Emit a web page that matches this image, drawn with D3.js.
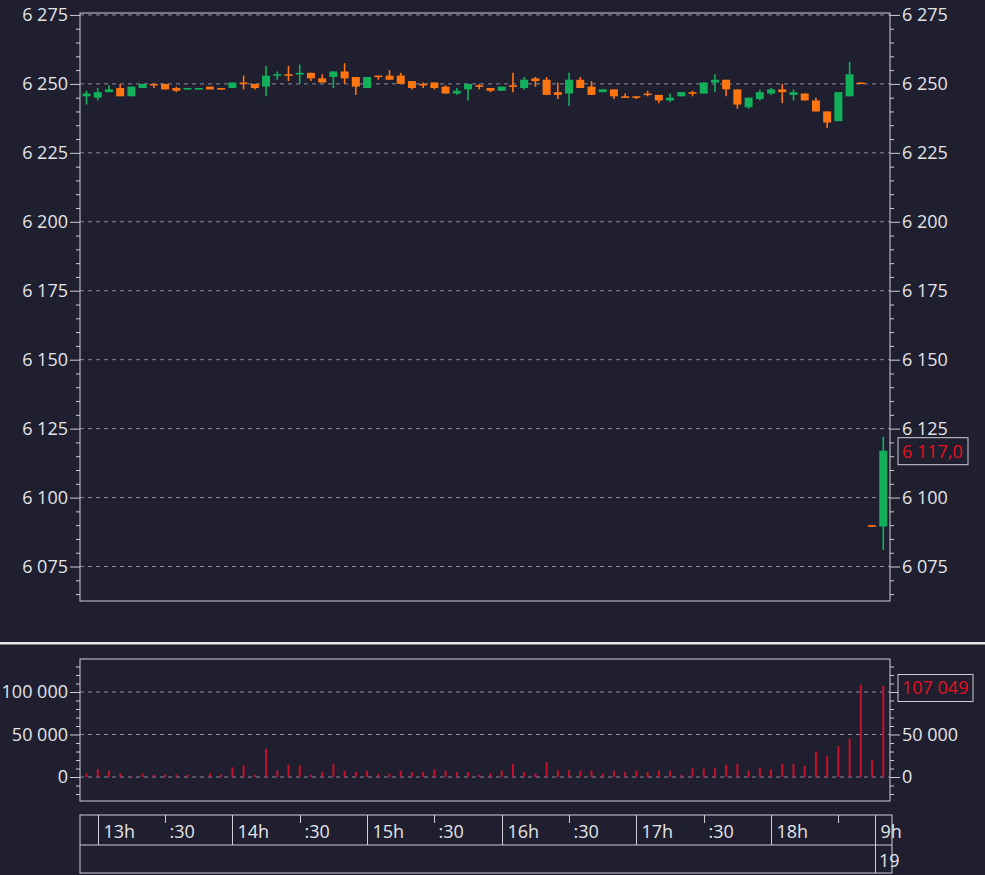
<!DOCTYPE html>
<html><head><meta charset="utf-8">
<script src="https://cdn.jsdelivr.net/npm/d3@7"></script>
<style>
html,body{margin:0;padding:0;background:#1f1f30;}
svg{display:block;}
</style></head><body>
<svg id="chart" width="985" height="875"></svg>
<script>
// ---- data (5-minute bars, index 0 = 12:55; 70 = close auction; 71 = next day 9:00) ----
const opens  = [6245.5,6245,6247,6248.5,6245.5,6248.5,6250,6250,6248.5,6248,6248,6249,6248.5,6248.5,6250.5,6250,6249,6253,
                6253.5,6253.5,6254,6252,6252.5,6254.5,6252.5,6248.5,6253,6253,6253,6251,6250,6250.5,6249,6246.5,6248,6249.5,
                6248.5,6247.5,6249.5,6248.5,6252,6251.5,6247,6246.5,6251.5,6249,6247,6248,6245.5,6245.5,6246.5,6246,6244,6245.5,
                6247,6246.5,6250.5,6251.5,6248,6241.5,6244.5,6246.5,6248,6246,6246.5,6244,6240,6236.5,6245.5,6250.5,6090,6089.5];
const highs  = [6247.5,6248.5,6249.5,6250,6249,6250,6250,6250,6249,6248.5,6248.5,6249,6248.5,6250.5,6253,6250,6256.5,6254.5,
                6256.5,6257,6254,6253.5,6254.5,6257.5,6252.5,6252.5,6253,6255,6254,6251,6250.5,6250.5,6249.5,6248.5,6250,6250,
                6248.5,6249,6254,6252.5,6252.5,6252.5,6250.5,6254,6252.5,6251,6248,6248,6246.5,6245.5,6247.5,6246,6246.5,6247,
                6247.5,6250.5,6253.5,6251.5,6248,6245,6248,6248.5,6250,6248,6246.5,6245,6240,6247,6258,6250.5,6090,6122];
const lows   = [6242.5,6244,6247,6245.5,6245.5,6248.5,6248.5,6248,6247,6248,6248,6248,6248,6248.5,6248,6248,6245.5,6251.5,
                6251,6250,6251,6250.5,6248.5,6250,6246,6248.5,6251.5,6251.5,6250,6248,6248.5,6248,6246.5,6246,6244,6248,
                6247,6247.5,6247,6248,6249,6246,6244.5,6242,6248.5,6246,6247,6244.5,6245,6244.5,6245.5,6243,6243.5,6245.5,
                6245.5,6246.5,6247,6245.5,6241,6241,6244,6246,6243,6244,6244,6240,6234,6236.5,6245.5,6250,6089.5,6081];
const closes = [6246.5,6247,6248,6245.5,6249,6250,6249.5,6248,6247.5,6248.5,6248.5,6248,6248,6250.5,6250,6248.5,6253,6253.5,
                6253,6254,6252,6250.5,6254.5,6252,6249,6252.5,6252.5,6251.5,6250,6248.5,6249.5,6248.5,6246.5,6247.5,6250,6249,
                6247.5,6249,6249,6251.5,6251,6246,6246,6251.5,6248.5,6246,6248,6245.5,6245,6245,6246,6244,6245,6247,
                6246.5,6250.5,6251.5,6248,6242.5,6245,6247,6248,6247,6247,6244,6240,6236,6247,6253.5,6250,6089.5,6117];
const volumes = [4300,9000,7500,4300,1000,4000,2700,2700,2700,2700,500,4300,3000,11400,13700,2700,33300,7500,
                 14500,13700,2700,6300,15700,7500,6300,7500,3500,4000,7500,5900,6300,9000,7500,5900,5900,2700,
                 4300,7500,15700,5900,4300,17600,8200,8200,7500,7500,4300,7500,5900,7500,5900,7500,7500,2700,
                 10200,9800,10200,14500,15700,7500,10200,9000,15700,15700,12900,30200,24700,36500,45100,108600,19600,107049];
const priceTicks = [6075,6100,6125,6150,6175,6200,6225,6250,6275];
const volumeTicks = [0,50000,100000];
const volumeTicksRightLabelled = [0,50000];
const timeLabels = ["13h",":30","14h",":30","15h",":30","16h",":30","17h",":30","18h","","9h"];
const timeIndex  = [1,7,13,19,25,31,37,43,49,55,61,67,70.3];
const timeMajor  = [true,false,true,false,true,false,true,false,true,false,true,false,true];
const dayLabels = ["19"];
const dayIndex = [70.3];
const lastPrice = 6117.0;
const lastVolume = 107049;

// ---- drawing ----
const W=985,H=875;
const BG="#1f1f30", GREEN="#12b05a", ORANGE="#ff7510", RED="#e3121e";
const TXT="#e4e4e8", FRAME="#cfcfd4", GRID="#8c8c9c";
const FONT="'Open Sans', sans-serif";
const FS="18px";
const svg=d3.select("#chart");
svg.append("rect").attr("width",W).attr("height",H).attr("fill",BG);

const loc=d3.formatLocale({decimal:",",thousands:" ",grouping:[3],currency:["",""]});
const fmt=loc.format(","), fmt1=loc.format(",.1f");

const L=80,R=890;
const x=d3.scaleLinear().domain([-0.58,71.6]).range([L,R]);
const yP=d3.scaleLinear().domain([6062.5,6275.7]).range([601,13]);
const yV=d3.scaleLinear().domain([-28200,138800]).range([801,659]);

function grid(scale,vals){
  svg.append("g").selectAll("line").data(vals).join("line")
    .attr("x1",L).attr("x2",R).attr("y1",d=>scale(d)).attr("y2",d=>scale(d))
    .attr("stroke",GRID).attr("stroke-width",1).attr("stroke-dasharray","4,4");
}
grid(yP,priceTicks); grid(yV,volumeTicks);

function axes(scale,major,minor,fmtf,rightLabelled){
  [[d3.axisLeft,L,null],[d3.axisRight,R,rightLabelled]].forEach(([A,xp,only])=>{
    const gmin=svg.append("g").attr("transform",`translate(${xp},0)`)
      .call(A(scale).tickValues(minor).tickSize(4).tickFormat(""));
    const ff = only ? (d=>only.includes(d)?fmtf(d):"") : fmtf;
    const gmaj=svg.append("g").attr("transform",`translate(${xp},0)`)
      .call(A(scale).tickValues(major).tickSize(10).tickPadding(2).tickFormat(ff));
    [gmin,gmaj].forEach(g=>{
      g.select(".domain").remove();
      g.selectAll(".tick line").attr("stroke",FRAME);
      g.selectAll(".tick text").attr("fill",TXT).style("font-family",FONT).style("font-size",FS);
    });
  });
}
axes(yP,priceTicks,d3.range(6065,6276,5).filter(v=>v%25!==0),fmt,null);
axes(yV,volumeTicks,d3.range(-20000,138001,10000).filter(v=>v%50000!==0),fmt,volumeTicksRightLabelled);

// frames
svg.append("rect").attr("x",L).attr("y",13).attr("width",R-L).attr("height",588)
  .attr("fill","none").attr("stroke",FRAME).attr("stroke-width",1);
svg.append("rect").attr("x",L).attr("y",659).attr("width",R-L).attr("height",142)
  .attr("fill","none").attr("stroke",FRAME).attr("stroke-width",1);
svg.append("rect").attr("x",0).attr("y",642).attr("width",W).attr("height",2.5).attr("fill","#e6e6ea");

// candles
const idx=d3.range(opens.length);
const cg=svg.append("g");
cg.selectAll("line").data(idx).join("line")
  .attr("x1",i=>x(i)).attr("x2",i=>x(i))
  .attr("y1",i=>yP(highs[i])).attr("y2",i=>yP(lows[i]))
  .attr("stroke",i=>closes[i]>=opens[i]?GREEN:ORANGE).attr("stroke-width",1.6);
cg.selectAll("rect").data(idx).join("rect")
  .attr("x",i=>x(i)-4).attr("width",8)
  .attr("y",i=>yP(Math.max(opens[i],closes[i])))
  .attr("height",i=>Math.max(1.6,Math.abs(yP(opens[i])-yP(closes[i]))))
  .attr("fill",i=>closes[i]>=opens[i]?GREEN:ORANGE);

// volume bars
svg.append("g").selectAll("rect").data(idx).join("rect")
  .attr("x",i=>x(i)-1).attr("width",2)
  .attr("y",i=>yV(volumes[i])).attr("height",i=>yV(0)-yV(volumes[i]))
  .attr("fill","#c8102a");

// value boxes
function valueBox(yv,text,w){
  const g=svg.append("g").attr("transform",`translate(898,${yv})`);
  g.append("rect").attr("x",0).attr("y",-13.5).attr("width",w).attr("height",27)
    .attr("fill",BG).attr("stroke",FRAME).attr("stroke-width",1);
  g.append("text").attr("x",4).attr("y",6.5).text(text)
    .attr("fill",RED).style("font-family",FONT).style("font-size",FS);
}
valueBox(yP(lastPrice)+0.5,fmt1(lastPrice),70);
valueBox(yV(lastVolume)+2,fmt(lastVolume),75);

// time axis
const T0=815,T1=845,T2=873,TR=892;
const tg=svg.append("g");
tg.append("rect").attr("x",L).attr("y",T0).attr("width",TR-L).attr("height",T2-T0)
  .attr("fill","none").attr("stroke",FRAME).attr("stroke-width",1);
tg.append("line").attr("x1",L).attr("x2",TR).attr("y1",T1).attr("y2",T1).attr("stroke",FRAME);
timeIndex.forEach((ti,k)=>{
  const xp=Math.round(x(ti))+0.5;
  const isDay=dayIndex.includes(ti);
  tg.append("line").attr("x1",xp).attr("x2",xp).attr("y1",T0)
    .attr("y2",isDay?T2:(timeMajor[k]?T1:T0+8)).attr("stroke",FRAME);
  if(timeLabels[k]) tg.append("text").attr("x",xp+(timeMajor[k]?5:4)).attr("y",T0+23)
    .text(timeLabels[k]).attr("fill",TXT).style("font-family",FONT).style("font-size",FS);
});
dayIndex.forEach((di,k)=>{
  tg.append("text").attr("x",Math.round(x(di))+4).attr("y",T1+22)
    .text(dayLabels[k]).attr("fill",TXT).style("font-family",FONT).style("font-size",FS);
});
</script>
</body></html>
